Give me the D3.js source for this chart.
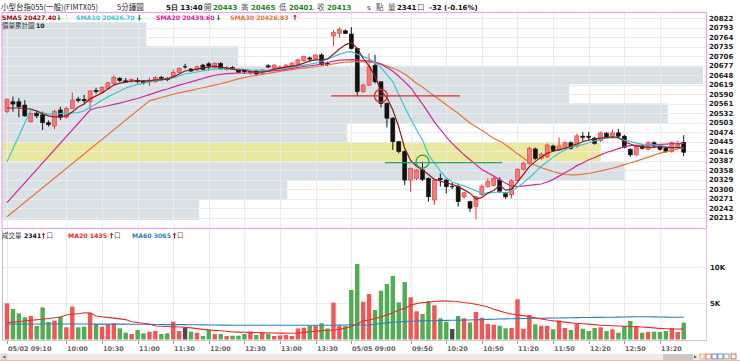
<!DOCTYPE html>
<html><head><meta charset="utf-8">
<script src="https://cdn.jsdelivr.net/npm/d3@7/dist/d3.min.js"></script>
<style>
body{margin:0;background:#fff;}
svg{display:block;font-family:"DejaVu Sans",Verdana,sans-serif;}
.cjk{font-family:"Noto Sans CJK TC","Noto Sans CJK SC",sans-serif;}
</style>
</head><body>
<svg id="chart" width="740" height="361"></svg>
<script>
// ---------------- DATA ----------------
const opens  = [20537,20567,20567,20557,20506,20532,20527,20503,20493,20542,20520,20547,20575,20574,20567,20602,20596,20608,20623,20639,20631,20628,20632,20630,20628,20628,20642,20638,20643,20657,20674,20667,20664,20679,20683,20671,20684,20666,20672,20664,20664,20655,20662,20654,20677,20670,20671,20672,20674,20681,20692,20701,20697,20710,20684,20768,20776,20784,20774,20730,20598,20618,20679,20628,20562,20517,20445,20415,20328,20333,20359,20333,20267,20333,20328,20308,20308,20277,20262,20247,20283,20308,20311,20328,20289,20283,20326,20361,20379,20423,20394,20399,20432,20420,20425,20442,20430,20462,20462,20456,20448,20471,20458,20472,20462,20422,20405,20432,20422,20442,20432,20425,20415,20430,20443];
const highs  = [20578,20583,20578,20572,20534,20540,20537,20510,20543,20552,20552,20595,20582,20588,20602,20610,20615,20628,20648,20642,20640,20638,20640,20632,20640,20645,20646,20642,20665,20672,20683,20670,20678,20683,20688,20688,20688,20676,20676,20667,20667,20664,20666,20668,20682,20682,20678,20682,20688,20698,20708,20705,20712,20715,20690,20786,20795,20788,20795,20732,20622,20715,20710,20630,20565,20520,20448,20418,20366,20362,20384,20336,20331,20348,20333,20320,20318,20292,20265,20280,20315,20333,20340,20336,20292,20330,20364,20384,20430,20427,20412,20440,20436,20458,20446,20446,20470,20474,20475,20460,20476,20474,20482,20484,20466,20425,20436,20436,20446,20446,20435,20428,20446,20448,20465];
const lows   = [20532,20537,20520,20521,20503,20517,20481,20491,20483,20511,20515,20545,20565,20562,20542,20592,20593,20605,20620,20628,20626,20626,20623,20620,20615,20625,20636,20630,20640,20655,20668,20658,20661,20663,20662,20668,20666,20662,20665,20654,20652,20650,20648,20650,20670,20668,20668,20670,20670,20678,20690,20688,20695,20676,20676,20737,20762,20774,20727,20585,20594,20615,20623,20550,20489,20420,20410,20313,20292,20328,20325,20262,20252,20308,20287,20300,20247,20270,20231,20208,20280,20305,20308,20289,20270,20272,20322,20357,20375,20390,20390,20395,20414,20417,20421,20421,20427,20447,20451,20436,20444,20455,20455,20459,20425,20399,20402,20421,20419,20428,20418,20411,20411,20427,20401];
const closes = [20574,20560,20552,20524,20532,20524,20503,20497,20537,20520,20547,20572,20572,20570,20600,20599,20611,20625,20641,20632,20630,20635,20630,20625,20633,20641,20640,20636,20657,20669,20674,20661,20674,20666,20676,20684,20669,20672,20670,20657,20659,20660,20652,20664,20675,20679,20673,20679,20685,20695,20705,20699,20710,20680,20680,20779,20788,20776,20730,20598,20618,20674,20628,20562,20517,20445,20415,20328,20364,20359,20330,20277,20328,20330,20308,20308,20262,20289,20242,20277,20308,20323,20333,20292,20277,20326,20361,20379,20425,20394,20407,20435,20418,20432,20442,20425,20463,20460,20460,20440,20472,20459,20472,20462,20428,20405,20432,20425,20442,20432,20422,20415,20442,20437,20413];
const volumes = [5000,4210,3620,3070,3245,1865,4440,2415,2600,3150,1685,4530,1685,1770,3700,2140,1770,2140,2235,1545,940,760,1310,855,1080,1175,760,855,2460,1175,1685,1080,940,480,1410,760,760,480,525,525,760,1080,620,940,760,480,570,620,480,1520,1630,1905,1905,2235,1520,5080,1865,1865,6840,10430,5220,6280,4075,6740,7660,8770,5135,7940,5830,3890,3520,5320,4720,2930,2460,1450,3245,2930,2375,3800,3010,2140,2045,1905,1545,1590,5550,1490,3385,2100,1905,1905,1410,2600,1590,1310,2140,1490,1175,1590,1685,1175,1410,940,1865,2550,1865,940,1035,1080,1035,1175,1590,1035,2341];

const sma5  = [20548,20548,20548,20546,20545,20539,20530,20524,20521,20521,20524,20536,20551,20560,20576,20585,20594,20606,20618,20624,20627,20631,20631,20631,20631,20634,20634,20637,20643,20652,20661,20664,20667,20670,20673,20676,20673,20670,20667,20664,20664,20659,20658,20658,20661,20667,20670,20673,20676,20679,20685,20692,20695,20695,20698,20712,20728,20741,20748,20730,20700,20676,20645,20600,20580,20542,20490,20425,20388,20370,20359,20345,20330,20325,20319,20315,20308,20298,20288,20270,20275,20288,20296,20312,20297,20300,20322,20345,20369,20385,20398,20410,20416,20420,20425,20432,20438,20445,20450,20454,20456,20458,20460,20458,20445,20438,20432,20430,20428,20428,20430,20428,20427,20427,20427.4];
const sma10 = [20384,null,null,null,20542,20539,20533,20530,20530,20531,20533,20533,20534,20539,20551,20560,20572,20582,20591,20600,20609,20615,20620,20624,20627,20631,20634,20637,20640,20646,20652,20655,20658,20661,20666,20667,20667,20667,20667,20667,20666,20664,20663,20663,20664,20666,20668,20670,20673,20676,20679,20682,20685,20690,20697,20705,20712,20718,20720,20712,20705,20698,20687,20672,20650,20628,20590,20550,20515,20481,20450,20405,20380,20355,20335,20322,20315,20310,20303,20295,20289,20288,20290,20292,20288,20295,20306,20320,20335,20352,20370,20384,20398,20410,20420,20428,20433,20436,20442,20448,20452,20455,20458,20456,20450,20446,20441,20438,20436,20435,20433,20431,20429,20428,20426.7];
const sma20 = [20259,null,null,null,null,null,null,null,null,null,null,null,null,null,20542,20548,20551,20555,20559,20563,20568,20573,20577,20583,20589,20595,20601,20606,20612,20618,20623,20628,20633,20638,20644,20648,20651,20653,20654,20655,20655,20655,20656,20658,20660,20662,20664,20666,20669,20672,20675,20677,20679,20683,20687,20691,20694,20695,20696,20695,20693,20692,20688,20682,20672,20660,20645,20628,20610,20585,20560,20533,20505,20483,20460,20440,20422,20405,20390,20375,20360,20350,20340,20330,20318,20310,20308,20310,20312,20314,20316,20322,20330,20340,20350,20360,20372,20380,20390,20397,20405,20412,20418,20424,20430,20433,20434,20435,20435,20436,20437,20438,20439,20439,20439.6];
const sma30 = [20216,null,null,null,null,null,null,null,null,null,null,null,null,null,null,null,null,null,null,null,null,null,null,null,20570,20575,20580,20585,20590,20594,20598,20602,20606,20610,20614,20618,20622,20627,20632,20637,20641,20645,20648,20651,20654,20657,20660,20663,20665,20668,20670,20672,20674,20677,20680,20683,20686,20688,20689,20689,20689,20689,20686,20682,20676,20670,20662,20652,20638,20623,20612,20598,20585,20572,20558,20545,20532,20517,20502,20491,20480,20468,20455,20447,20435,20422,20408,20395,20382,20373,20366,20360,20354,20349,20345,20344,20344,20346,20348,20352,20356,20360,20364,20369,20375,20380,20386,20392,20398,20404,20410,20414,20419,20423,20426.83];

const volMA20 = [2320,2400,2480,2560,2640,2720,2800,2900,3000,3100,3385,3480,3560,3700,3650,3245,3150,3050,2950,2850,2750,2460,2350,2250,2150,1865,1830,1790,1760,1720,1685,1600,1500,1400,1310,1260,1200,1150,1035,1020,1000,980,960,940,920,900,880,860,855,900,980,1080,1150,1220,1280,1310,1400,1545,1800,2140,2600,2690,2900,3100,3385,3700,4075,4300,4765,4950,5100,5135,5250,5320,5300,5280,5220,5100,5000,4860,4700,4500,4170,3950,3700,3520,3400,3300,3150,3000,2850,2700,2600,2500,2400,2300,2235,2180,2120,2060,1960,1930,1900,1870,1840,1800,1770,1720,1670,1600,1530,1490,1460,1445,1435];
const volMA60 = [2140,2140,2140,2140,2140,2140,2140,2140,2140,2140,2140,2140,2140,2140,2140,2130,2130,2130,2130,2120,2120,2110,2100,2100,2090,2080,2070,2060,2060,2050,2050,2040,2030,2020,2010,2000,1990,1980,1970,1970,1960,1960,1960,1960,1960,1960,1960,1960,1960,1960,1960,1960,1960,1960,1960,1960,1980,2000,2020,2000,2000,2000,2100,2200,2300,2380,2440,2480,2520,2550,2570,2590,2600,2620,2640,2660,2670,2680,2690,2720,2750,2780,2800,2830,2850,2870,2890,2910,2920,2930,2940,2950,2960,2970,2990,3010,3020,3030,3040,3050,3060,3070,3080,3090,3100,3120,3150,3150,3140,3120,3100,3090,3080,3070,3065];

const priceTicks = [20822,20793,20764,20735,20706,20677,20648,20619,20590,20561,20532,20503,20474,20445,20416,20387,20358,20329,20300,20271,20242,20213];
const volTicks = [5000,10000];
const volTickLabels = ["5K","10K"];
const tickIdx = [0,10,16,22,28,34,40,46,52,58,68,74,80,86,92,98,104,110];
const tickLabels = ["05/02 09:10","10:00","10:30","11:00","11:30","12:00","12:30","13:00","13:30","05/05 09:00","09:50","10:20","10:50","11:20","11:50","12:20","12:50","13:20"];

// price-volume accumulation bands
const bandLo  = [20206,20267,20325,20382,20441,20502,20562,20621,20677,20737];
const bandHi  = [20267,20325,20382,20441,20502,20562,20621,20677,20737,20810];
const bandVol = [5600,8100,17700,17000,9800,18900,16100,19900,6700,4100];
const bandCurrent = 3;

// drawn annotations (bar index, price)
const hLines = [{i0:54.6,i1:76.3,p:20585,c:"#e02828"},{i0:63.7,i1:83.4,p:20381,c:"#2aa84a"}];
const circles = [{i:63,p:20585,c:"#e02828"},{i:70,p:20384,c:"#2aa84a"}];

// ---------------- DRAW ----------------
const svg = d3.select("#chart");
const N = closes.length;
const L = 2, R = 706.5, T = 12.5, B = 228.5;
const VT = 230, VB = 340;
const x = d3.scaleLinear().domain([0, 114]).range([7, 683.7]);
const y = d3.scaleLinear().domain([20213, 20822]).range([217.7, 18.3]);
const yv = d3.scaleLinear().domain([0, 10000]).range([339.5, 267.1]);
const xb = d3.scaleLinear().domain([0, 20000]).range([L, R]);

const RED = "#f05656", GREEN = "#52ad52";

svg.append("rect").attr("x",L).attr("y",T).attr("width",R-L).attr("height",B-T).attr("fill","#fff");

// bands
svg.append("g").selectAll("rect").data(bandVol).join("rect")
  .attr("x", L)
  .attr("y", (d,k)=>y(bandHi[k]))
  .attr("width", d=>xb(d)-L)
  .attr("height", (d,k)=>y(bandLo[k])-y(bandHi[k]))
  .attr("fill", (d,k)=> k===bandCurrent ? "#e9e89d" : "#d9e0e6");

// grid
const grid = svg.append("g").attr("stroke","#ebebeb").attr("stroke-width",1);
priceTicks.forEach(p=>{
  grid.append("line").attr("x1",L).attr("x2",R).attr("y1",Math.round(y(p))+0.5).attr("y2",Math.round(y(p))+0.5);
});
tickIdx.forEach(i=>{
  const xx = Math.round(x(i))+0.5;
  grid.append("line").attr("x1",xx).attr("x2",xx).attr("y1",T).attr("y2",B);
  grid.append("line").attr("x1",xx).attr("x2",xx).attr("y1",VT).attr("y2",VB);
});
volTicks.forEach(v=>{
  grid.append("line").attr("x1",L).attr("x2",R).attr("y1",Math.round(yv(v))+0.5).attr("y2",Math.round(yv(v))+0.5);
});

// candles
const cg = svg.append("g");
d3.range(N).forEach(i=>{
  const o=opens[i], c=closes[i], h=highs[i], l=lows[i];
  const up = c>o, col = up ? "#e23a3a" : "#111";
  cg.append("line").attr("x1",x(i)).attr("x2",x(i)).attr("y1",y(h)).attr("y2",y(l)).attr("stroke",col).attr("stroke-width",1);
  const top = y(Math.max(o,c)), bot = y(Math.min(o,c));
  if (o===c) {
    cg.append("line").attr("x1",x(i)-2).attr("x2",x(i)+2).attr("y1",top).attr("y2",top).attr("stroke",col).attr("stroke-width",1.2);
  } else {
    cg.append("rect").attr("x",x(i)-2).attr("y",top).attr("width",4).attr("height",Math.max(1.2,bot-top))
      .attr("fill", up ? "#f47a7a" : "#111").attr("stroke", up ? "#e23a3a" : "#111").attr("stroke-width",0.6);
  }
});

// moving averages
function maLine(arr, color){
  const pts = arr.map((v,i)=>[i,v]).filter(d=>d[1]!==null);
  svg.append("path").attr("d", d3.line().x(d=>x(d[0])).y(d=>y(d[1]))(pts))
    .attr("fill","none").attr("stroke",color).attr("stroke-width",1.2);
}
maLine(sma30, "#e8753a");
maLine(sma20, "#d3279e");
maLine(sma10, "#3cc6d0");
maLine(sma5, "#8b1c1c");

// annotations
hLines.forEach(h=>{
  svg.append("line").attr("x1",x(h.i0)).attr("x2",x(h.i1)).attr("y1",y(h.p)).attr("y2",y(h.p)).attr("stroke",h.c).attr("stroke-width",1.3);
});
circles.forEach(c=>{
  svg.append("circle").attr("cx",x(c.i)).attr("cy",y(c.p)).attr("r",6.5).attr("fill","none").attr("stroke",c.c).attr("stroke-width",1.3);
});

// main border
svg.append("rect").attr("x",L).attr("y",T).attr("width",R-L).attr("height",B-T).attr("fill","none").attr("stroke","#e6a6e6").attr("stroke-width",1.2);

// price axis labels
svg.append("g").selectAll("text").data(priceTicks).join("text")
  .attr("x",709).attr("y",p=>y(p)+2.5).text(p=>p)
  .attr("font-size","7px").attr("font-weight","bold").attr("fill","#222");

// volume bars
svg.append("g").selectAll("rect").data(volumes).join("rect")
  .attr("x",(d,i)=>x(i)-2.2).attr("width",4.4)
  .attr("y",d=>yv(d)).attr("height",d=>yv(0)-yv(d))
  .attr("fill",(d,i)=> closes[i]>opens[i] ? RED : closes[i]<opens[i] ? GREEN : "#4a4a4a");

function volLine(arr,color){
  svg.append("path").attr("d", d3.line().x((d,i)=>x(i)).y(d=>yv(d))(arr))
    .attr("fill","none").attr("stroke",color).attr("stroke-width",1.1);
}
volLine(volMA60, "#2f7fbf");
volLine(volMA20, "#e82a2a");

// volume panel frame
svg.append("line").attr("x1",L+0.5).attr("x2",L+0.5).attr("y1",VT).attr("y2",VB+1).attr("stroke","#bbb");
svg.append("line").attr("x1",R).attr("x2",R).attr("y1",VT).attr("y2",VB+1).attr("stroke","#e0c8e0");
svg.append("line").attr("x1",L).attr("x2",R).attr("y1",VB+0.5).attr("y2",VB+0.5).attr("stroke","#ccc");

svg.append("g").selectAll("text").data(volTicks).join("text")
  .attr("x",710).attr("y",v=>yv(v)+2.5).text((v,k)=>volTickLabels[k])
  .attr("font-size","7px").attr("font-weight","bold").attr("fill","#222");

// x axis
const xa = svg.append("g");
tickIdx.forEach((i,k)=>{
  const xx = Math.round(x(i))+0.5;
  xa.append("line").attr("x1",xx).attr("x2",xx).attr("y1",VB+1).attr("y2",VB+4).attr("stroke","#999");
  xa.append("text").attr("x",xx+0.5).attr("y",351).text(tickLabels[k])
    .attr("font-size","6.5px").attr("font-weight","bold").attr("fill","#666");
});

// scrollbar
svg.append("rect").attr("x",1).attr("y",354).attr("width",705).attr("height",6).attr("fill","#ececec");
svg.append("rect").attr("x",1).attr("y",354).attr("width",6).attr("height",6).attr("fill","#e0e0e0").attr("stroke","#bbb").attr("stroke-width",0.5);
svg.append("path").attr("d","M5.5,355.5 L2.5,357 L5.5,358.5Z").attr("fill","#555");
svg.append("rect").attr("x",663).attr("y",354).attr("width",30).attr("height",6).attr("fill","#c9c9c9");
svg.append("path").attr("d","M694,355.5 L697,357 L694,358.5Z").attr("fill","#555");
[["#f0b040",700],["#e05050",706],["#4070d0",712],["#4070d0",718],["#60a060",724],["#d04040",731]].forEach(d=>{
  svg.append("rect").attr("x",d[1]).attr("y",354).attr("width",5).attr("height",5).attr("fill","none").attr("stroke",d[0]).attr("stroke-width",0.8);
});
svg.append("line").attr("x1",0).attr("x2",740).attr("y1",360.5).attr("y2",360.5).attr("stroke","#f0b0b0");

// header
const hdr = svg.append("g").attr("font-size","7.5px");
function t(g,xx,yy,s,opt){
  const e = g.append("text").attr("x",xx).attr("y",yy).text(s);
  if(opt) Object.entries(opt).forEach(([k,v])=>e.attr(k,v));
  return e;
}
t(hdr,1,9.5,"小型台指055(一般)(FIMTX05)",{"class":"cjk","fill":"#222"});
t(hdr,117,9.5,"5分鐘圖",{"class":"cjk","fill":"#222"});
t(hdr,166,9.5,"5日 13:40",{"font-weight":"bold","fill":"#111","font-size":"7px"});
t(hdr,204,9.5,"開",{"class":"cjk","fill":"#555"});
t(hdr,213,9.5,"20443",{"font-weight":"bold","fill":"#1a8a1a","font-size":"7px"});
t(hdr,241,9.5,"高",{"class":"cjk","fill":"#555"});
t(hdr,251,9.5,"20465",{"font-weight":"bold","fill":"#1a8a1a","font-size":"7px"});
t(hdr,279,9.5,"低",{"class":"cjk","fill":"#555"});
t(hdr,289,9.5,"20401",{"font-weight":"bold","fill":"#1a8a1a","font-size":"7px"});
t(hdr,317,9.5,"收",{"class":"cjk","fill":"#555"});
t(hdr,327,9.5,"20413",{"font-weight":"bold","fill":"#1a8a1a","font-size":"7px"});
t(hdr,367,9.5,"s",{"fill":"#333","font-size":"7px"});
t(hdr,376,9.5,"點",{"class":"cjk","fill":"#555"});
t(hdr,388,9.5,"量",{"class":"cjk","fill":"#555"});
t(hdr,397,9.5,"2341",{"font-weight":"bold","fill":"#111","font-size":"7px"});
t(hdr,417,9.5,"口",{"class":"cjk","fill":"#555"});
t(hdr,429,9.5,"-32 (-0.16%)",{"font-weight":"bold","fill":"#111","font-size":"7px"});

// arrows
function arrow(xx,yy,up,color){
  const p = up ? `M${xx},${yy-3.2} L${xx-1.8},${yy-0.8} L${xx-0.6},${yy-0.8} L${xx-0.6},${yy+2.6} L${xx+0.6},${yy+2.6} L${xx+0.6},${yy-0.8} L${xx+1.8},${yy-0.8}Z`
               : `M${xx},${yy+3.2} L${xx-1.8},${yy+0.8} L${xx-0.6},${yy+0.8} L${xx-0.6},${yy-2.6} L${xx+0.6},${yy-2.6} L${xx+0.6},${yy+0.8} L${xx+1.8},${yy+0.8}Z`;
  svg.append("path").attr("d",p).attr("fill",color);
}

// MA legend
const lg = svg.append("g").attr("font-size","6.2px").attr("font-weight","bold");
t(lg,2,19.6,"SMA5 20427.40",{"fill":"#9a1010"}); arrow(59,17.5,false,"#1f9a1f");
t(lg,76,19.6,"SMA10 20426.70",{"fill":"#3cc6d0"}); arrow(139.5,17.5,false,"#1f9a1f");
t(lg,156,19.6,"SMA20 20439.60",{"fill":"#d3279e"}); arrow(218.5,17.5,false,"#1f9a1f");
t(lg,230,19.6,"SMA30 20426.83",{"fill":"#e8753a"}); arrow(295,17.5,true,"#e02020");
t(svg,2,28,"價量累計圖",{"class":"cjk","font-size":"6.5px","fill":"#333"});
t(svg,36,28,"10",{"font-size":"6.2px","font-weight":"bold","fill":"#222"});

// volume legend
t(svg,2,238,"成交量",{"class":"cjk","font-size":"6.5px","fill":"#333"});
t(svg,24,238,"2341",{"font-size":"6.2px","font-weight":"bold","fill":"#111"}); arrow(43.5,235.8,true,"#e02020");
t(svg,46.5,238.2,"口",{"class":"cjk","font-size":"6.5px","fill":"#555"});
t(svg,68,238,"MA20 1435",{"font-size":"6.2px","font-weight":"bold","fill":"#e82a2a"}); arrow(111.5,235.8,true,"#e02020");
t(svg,114,238.2,"口",{"class":"cjk","font-size":"6.5px","fill":"#555"});
t(svg,132,238,"MA60 3065",{"font-size":"6.2px","font-weight":"bold","fill":"#2f7fbf"}); arrow(174.5,235.8,true,"#e02020");
t(svg,177,238.2,"口",{"class":"cjk","font-size":"6.5px","fill":"#555"});
</script>
</body></html>
